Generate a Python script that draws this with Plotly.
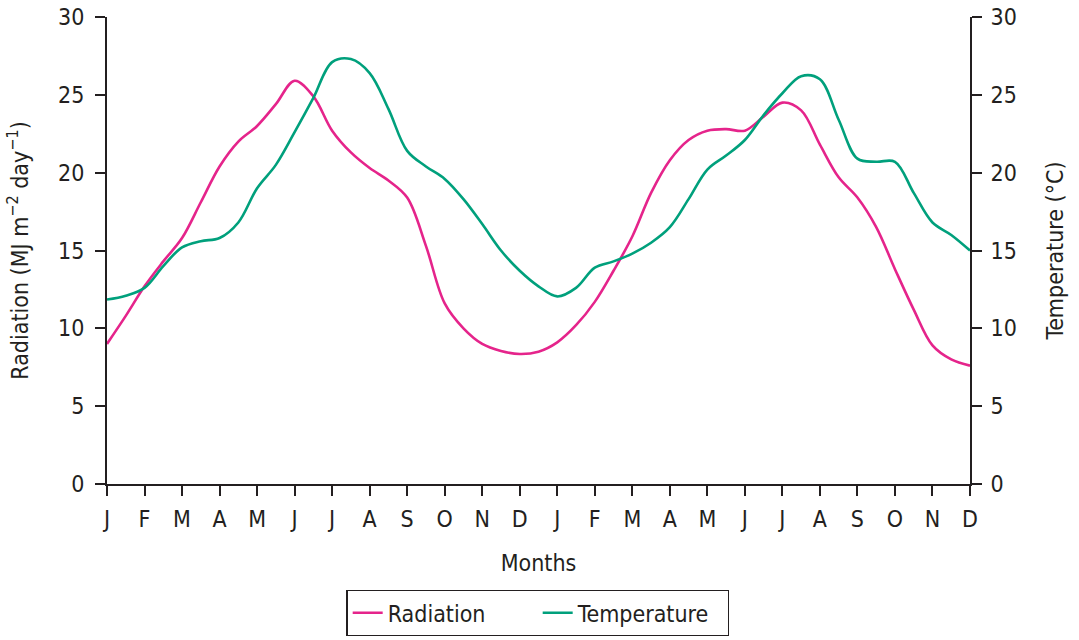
import plotly.graph_objects as go

# Two years of monthly data, sampled every half month (index in months from the first January)
month_labels = ["J", "F", "M", "A", "M", "J", "J", "A", "S", "O", "N", "D",
                "J", "F", "M", "A", "M", "J", "J", "A", "S", "O", "N", "D"]
months = [i * 0.5 for i in range(47)]

radiation = [9.0, 10.8, 12.7, 14.3, 15.8, 18.1, 20.4, 22.0, 23.0, 24.4,
             25.9, 24.9, 22.7, 21.3, 20.3, 19.5, 18.4, 15.3, 11.6, 10.0,
             9.0, 8.55, 8.35, 8.5, 9.1, 10.2, 11.7, 13.7, 15.9, 18.7,
             20.8, 22.1, 22.7, 22.8, 22.7, 23.6, 24.5, 24.0, 21.8, 19.7,
             18.4, 16.5, 13.8, 11.2, 8.9, 8.0, 7.6]

temperature = [11.85, 12.1, 12.6, 14.0, 15.2, 15.6, 15.8, 16.8, 19.0, 20.5,
               22.6, 24.8, 27.1, 27.3, 26.4, 24.1, 21.4, 20.4, 19.6, 18.3,
               16.7, 15.0, 13.7, 12.7, 12.05, 12.6, 13.9, 14.3, 14.8, 15.5,
               16.5, 18.3, 20.2, 21.1, 22.1, 23.7, 25.1, 26.2, 26.0, 23.4,
               20.9, 20.7, 20.7, 18.7, 16.8, 16.0, 15.0]

y_ticks = [0, 5, 10, 15, 20, 25, 30]

PINK = "#e5248b"
GREEN = "#00a07c"
INK = "#231f20"
FONT = "DejaVu Sans Condensed, Liberation Sans Narrow, Arial Narrow, sans-serif"
SIZE = 23

fig = go.Figure()
fig.add_trace(go.Scatter(
    x=months, y=radiation, name="Radiation", mode="lines",
    line=dict(color=PINK, width=2.6, shape="spline", smoothing=1.0),
    yaxis="y"))
fig.add_trace(go.Scatter(
    x=months, y=temperature, name="Temperature", mode="lines",
    line=dict(color=GREEN, width=2.6, shape="spline", smoothing=1.0),
    yaxis="y2"))

axis_common = dict(
    showgrid=False, zeroline=False, showline=True, linecolor=INK, linewidth=2,
    ticks="outside", ticklen=10, tickwidth=1.5, tickcolor=INK,
    tickfont=dict(family=FONT, size=SIZE, color=INK),
    automargin=False,
)
title_font = dict(family=FONT, size=SIZE, color=INK)

fig.update_layout(
    width=1079, height=640,
    margin=dict(l=107, r=109, t=17, b=156),
    paper_bgcolor="white", plot_bgcolor="white",
    font=dict(family=FONT, size=SIZE, color=INK),
    xaxis=dict(
        **axis_common,
        range=[0, 23], tickmode="array",
        tickvals=list(range(24)), ticktext=month_labels,
        ticklabelstandoff=3,
        title=dict(text="Months", font=title_font, standoff=24),
    ),
    yaxis=dict(
        **axis_common,
        range=[0, 30], tickvals=y_ticks, ticklabelstandoff=6,
        title=dict(text="Radiation (MJ m<sup>\u22122</sup> day<sup>\u22121</sup>)",
                   font=title_font, standoff=23),
    ),
    yaxis2=dict(
        **axis_common,
        range=[0, 30], tickvals=y_ticks, overlaying="y", side="right",
        ticklabelstandoff=4,
        title=dict(text="Temperature (\u00b0C)", font=title_font, standoff=31),
    ),
    legend=dict(
        orientation="h",
        xref="container", x=0.4986, xanchor="center",
        yref="container", y=0.078, yanchor="top",
        bordercolor=INK, borderwidth=1.2, bgcolor="white",
        font=dict(family=FONT, size=SIZE, color=INK),
        entrywidth=145, entrywidthmode="pixels",
    ),
    showlegend=True,
)

fig.write_html("out.html")
